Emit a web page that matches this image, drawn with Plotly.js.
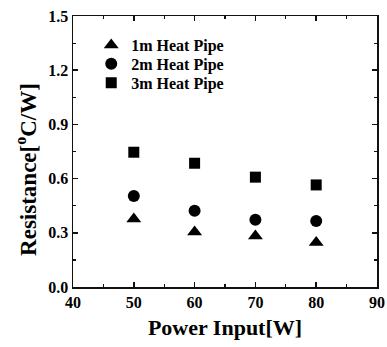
<!DOCTYPE html>
<html>
<head>
<meta charset="utf-8">
<script src="https://cdn.plot.ly/plotly-3.0.1.min.js"></script>
<style>html,body{margin:0;padding:0;background:#fff;}#chart{width:387px;height:347px;}</style>
</head>
<body>
<div id="chart"></div>
<script>
const power = [50, 60, 70, 80];
const pipe1m = [0.376, 0.304, 0.282, 0.246];
const pipe2m = [0.504, 0.422, 0.372, 0.365];
const pipe3m = [0.746, 0.685, 0.608, 0.565];
const seriesNames = ['1m Heat Pipe', '2m Heat Pipe', '3m Heat Pipe'];
const xTickVals = [40, 50, 60, 70, 80, 90];
const xTickLabels = ['40', '50', '60', '70', '80', '90'];
const yTickVals = [0, 0.3, 0.6, 0.9, 1.2, 1.5];
const yTickLabels = ['0.0', '0.3', '0.6', '0.9', '1.2', '1.5'];
const xTitle = 'Power Input[W]';
const yTitle = 'Resistance[<sup>o</sup>C/W]';

const font = {family: 'Liberation Serif', color: '#000'};
function bold(size) { return Object.assign({size: size, weight: 'bold'}, font); }
const b = t => '<b>' + t + '</b>';
function trace(y, name, symbol, size, legend) {
  return {x: power, y: y, name: name, type: 'scatter', mode: 'markers', legend: legend,
    marker: {symbol: symbol, size: size, color: '#000'}};
}
const data = [
  trace(pipe1m, seriesNames[0], 'triangle-up', 13, 'legend'),
  trace(pipe2m, seriesNames[1], 'circle', 12, 'legend2'),
  trace(pipe3m, seriesNames[2], 'square', 11, 'legend3')
];
const axisCommon = {
  showgrid: false, zeroline: false, showline: true, linecolor: '#111', linewidth: 1.5,
  mirror: 'allticks', ticks: 'inside', ticklen: 5, tickwidth: 1.5, tickcolor: '#111',
  tickfont: bold(16), tickmode: 'array'
};
function legendAt(y) {
  return {x: 0.06, y: y, xanchor: 'left', yanchor: 'middle', bgcolor: 'rgba(0,0,0,0)',
    font: bold(16), borderwidth: 0};
}
const layout = {
  width: 387, height: 347,
  margin: {l: 73, r: 10, t: 16, b: 60},
  paper_bgcolor: '#fff', plot_bgcolor: '#fff',
  font: bold(16),
  showlegend: true,
  legend: legendAt(0.893),
  legend2: legendAt(0.823),
  legend3: legendAt(0.753),
  xaxis: Object.assign({}, axisCommon, {
    range: [40, 90], tickvals: xTickVals, ticktext: xTickLabels.map(b),
    minor: {tickmode: 'linear', tick0: 45, dtick: 10, ticks: 'inside', ticklen: 3, tickcolor: '#111', tickwidth: 1.2},
    title: {text: b(xTitle), font: bold(22), standoff: 10}
  }),
  yaxis: Object.assign({}, axisCommon, {
    range: [0, 1.5], tickvals: yTickVals, ticktext: yTickLabels.map(b),
    minor: {tickmode: 'linear', tick0: 0.15, dtick: 0.3, ticks: 'inside', ticklen: 3, tickcolor: '#111', tickwidth: 1.2}
  }),
  annotations: [{
    text: b(yTitle), xref: 'paper', yref: 'paper', x: 0, y: 0.432, xshift: -46,
    xanchor: 'center', yanchor: 'middle', textangle: -90, showarrow: false,
    font: bold(23)
  }]
};
Plotly.newPlot('chart', data, layout, {displayModeBar: false, staticPlot: true});
</script>
</body>
</html>
